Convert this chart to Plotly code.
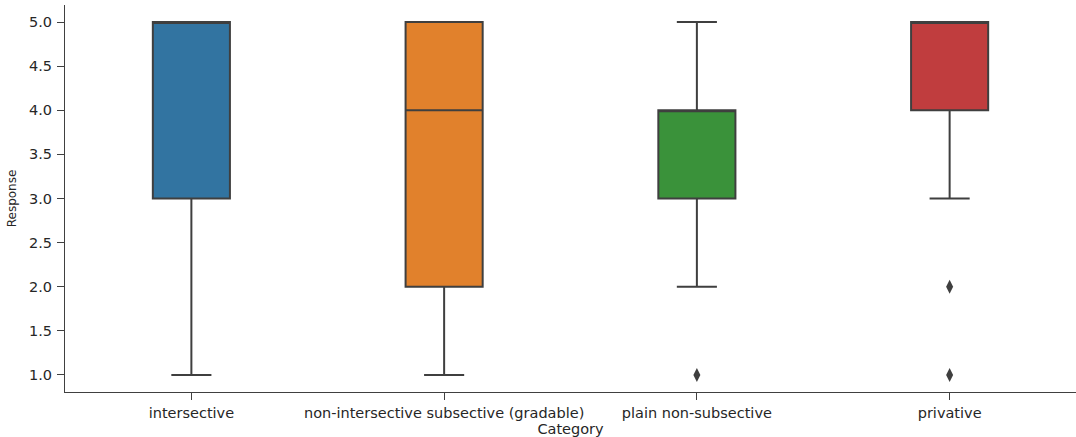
import plotly.graph_objects as go

categories = ["intersective", "non-intersective subsective (gradable)", "plain non-subsective", "privative"]
q1 = [3, 2, 3, 4]
median = [5, 4, 4, 5]
q3 = [5, 5, 4, 5]
lower = [1, 1, 2, 3]
upper = [5, 5, 5, 5]
colors = ["#3274a1", "#e1812c", "#3a923a", "#c03d3e"]
outlier_cats = ["plain non-subsective", "privative", "privative"]
outlier_vals = [1, 2, 1]

edge = "#3f3f3f"
fig = go.Figure()
for i, c in enumerate(categories):
    fig.add_trace(go.Box(
        x=[c], q1=[q1[i]], median=[median[i]], q3=[q3[i]],
        lowerfence=[lower[i]], upperfence=[upper[i]],
        fillcolor=colors[i], line=dict(color=edge, width=2),
        width=0.305, whiskerwidth=0.52, boxpoints=False, showlegend=False,
        hoverinfo="skip",
    ))
fig.add_trace(go.Scatter(
    x=outlier_cats, y=outlier_vals, mode="markers",
    marker=dict(symbol="diamond-tall", size=10, color=edge), showlegend=False,
))

axis_common = dict(
    showline=True, linecolor="#404040", linewidth=1.25,
    ticks="outside", ticklen=7, tickwidth=1.25, tickcolor="#404040",
    showgrid=False, zeroline=False,
    tickfont=dict(family="DejaVu Sans", size=14.5, color="#262626"),
)
fig.update_layout(
    width=1076, height=437,
    margin=dict(l=65, r=0, t=5, b=45),
    plot_bgcolor="white", paper_bgcolor="white",
    xaxis=dict(**axis_common, type="category", categoryorder="array",
               categoryarray=categories, range=[-0.5, 3.5],
               title=dict(text="Category", standoff=2,
                          font=dict(family="DejaVu Sans", size=14.5, color="#262626"))),
    yaxis=dict(**axis_common, range=[0.807, 5.193], tickvals=[1, 1.5, 2, 2.5, 3, 3.5, 4, 4.5, 5],
               ticktext=["1.0", "1.5", "2.0", "2.5", "3.0", "3.5", "4.0", "4.5", "5.0"],
               ticklabelstandoff=2,
               title=dict(text="Response", standoff=9,
                          font=dict(family="DejaVu Sans", size=12, color="#262626"))),
)
fig.write_html("out.html", config={"displayModeBar": False},
               post_script="document.body.style.margin='0';")
